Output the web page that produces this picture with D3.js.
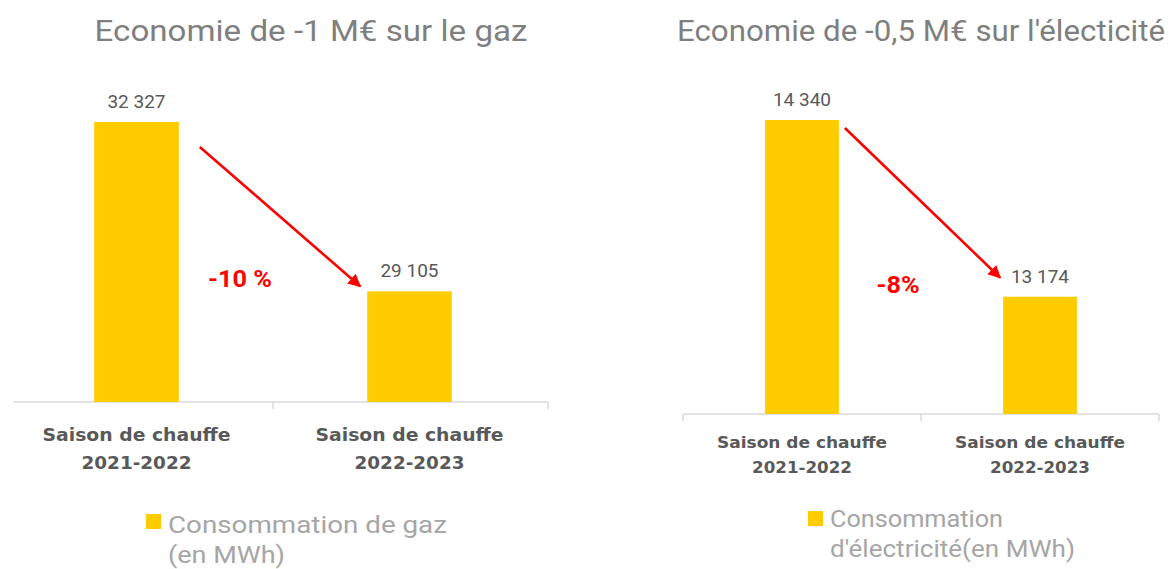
<!DOCTYPE html>
<html>
<head>
<meta charset="utf-8">
<script src="https://d3js.org/d3.v7.min.js"></script>
<style>
  body { margin: 0; background: #fff; }
  svg { display: block; font-family: Roboto, "Noto Sans", sans-serif; }
  .title { fill: #7f7f7f; font-size: 29px; }
  .value { fill: #595959; font-size: 19px; }
  .cat { fill: #595959; font-family: "DejaVu Sans", sans-serif; font-weight: bold; }
  .change { fill: #ff0000; font-size: 23px; font-weight: bold; }
  .legend { fill: #a6a6a6; font-size: 23px; }
  .bar { fill: #ffcc00; }
</style>
</head>
<body>
<div id="chart"></div>
<script>
// data
const categories = [["Saison de chauffe", "2021-2022"], ["Saison de chauffe", "2022-2023"]];
const gasValues = [32327, 29105];
const elecValues = [14340, 13174];
const titles = ["Economie de -1 M€ sur le gaz", "Economie de -0,5 M€ sur l'électicité"];
const changeLabels = ["-10 %", "-8%"];
const legendLabels = [["Consommation de gaz", "(en MWh)"], ["Consommation", "d'électricité(en MWh)"]];
const axisBounds = [[27000, 34000], [12400, 15000]];

const w = 1169, h = 569;
const fr = d3.formatLocale({decimal: ",", thousands: " ", grouping: [3], currency: ["", "€"]});
const fmt = fr.format(",d");

const svg = d3.select("#chart").append("svg")
  .attr("width", w)
  .attr("height", h);

svg.append("defs").append("marker")
  .attr("id", "head")
  .attr("viewBox", "0 0 10 10")
  .attr("refX", 9).attr("refY", 5)
  .attr("markerWidth", 5).attr("markerHeight", 5)
  .attr("orient", "auto")
  .append("path")
  .attr("d", "M0,0 L10,5 L0,10 z")
  .attr("fill", "#ff0000");

// layout of each panel
const panels = [
  {values: gasValues, left: 0, right: 546, lineL: 14, lineR: 548, edgeTicks: [273, 548],
   base: 402, top: 34, titleX: 311, titleW: 433, catSize: 18.5, catW: [188, 110], catY: [441, 469],
   start: [21, 25], end: [-7, -5], chg: [240, 287], chgW: 64,
   legX: 146, legY: 514, legSq: 15, legBase: [533, 563], legW: [279, 117]},
  {values: elecValues, left: 683, right: 1159, lineL: 683, lineR: 1159, edgeTicks: [683, 921, 1159],
   base: 414, top: 20, titleX: 921, titleW: 488, catSize: 16.5, catW: [170, 100], catY: [448, 473],
   start: [6, 8], end: [-3, -19], chg: [898, 293], chgW: 43,
   legX: 808, legY: 511, legSq: 15, legBase: [527, 557], legW: [173, 245]}
];

panels.forEach((p, k) => {
  const g = svg.append("g");
  const keys = categories.map(c => c.join(" "));

  const x = d3.scaleBand().domain(keys).range([p.left, p.right]).paddingInner(0.69).paddingOuter(0.345);
  const y = d3.scaleLinear().domain(axisBounds[k]).range([p.base, p.top]);

  g.append("text")
    .attr("class", "title")
    .attr("x", p.titleX).attr("y", 41)
    .attr("text-anchor", "middle")
    .attr("textLength", p.titleW)
    .attr("lengthAdjust", "spacingAndGlyphs")
    .text(titles[k]);

  // category axis: baseline with separator ticks
  const ax = g.append("g").attr("transform", `translate(0,${p.base})`)
    .call(d3.axisBottom(x).tickSize(0).tickFormat(""));
  ax.select(".domain").remove();
  ax.append("line")
    .attr("x1", p.lineL).attr("x2", p.lineR)
    .attr("stroke", "#d9d9d9").attr("stroke-width", 1.5);
  ax.selectAll(".edge").data(p.edgeTicks).enter().append("line")
    .attr("x1", d => d).attr("x2", d => d)
    .attr("y1", 0).attr("y2", 7)
    .attr("stroke", "#d9d9d9").attr("stroke-width", 1.5);

  g.selectAll("rect.bar")
    .data(p.values)
    .enter().append("rect")
    .attr("class", "bar")
    .attr("x", (d, i) => x(keys[i]))
    .attr("y", d => y(d))
    .attr("width", x.bandwidth())
    .attr("height", d => p.base - y(d));

  g.selectAll("text.value")
    .data(p.values)
    .enter().append("text")
    .attr("class", "value")
    .attr("x", (d, i) => x(keys[i]) + x.bandwidth() / 2)
    .attr("y", d => y(d) - 14)
    .attr("text-anchor", "middle")
    .text(d => fmt(d));

  categories.forEach((c, i) => {
    const cx = x(keys[i]) + x.bandwidth() / 2;
    c.forEach((line, j) => {
      g.append("text")
        .attr("class", "cat")
        .attr("x", cx).attr("y", p.catY[j])
        .attr("text-anchor", "middle")
        .style("font-size", p.catSize + "px")
        .attr("textLength", p.catW[j])
        .attr("lengthAdjust", "spacingAndGlyphs")
        .text(line);
    });
  });

  // red arrow from first bar towards second
  const x1 = x(keys[0]) + x.bandwidth() + p.start[0], y1 = y(p.values[0]) + p.start[1];
  const x2 = x(keys[1]) + p.end[0], y2 = y(p.values[1]) + p.end[1];
  g.append("line")
    .attr("x1", x1).attr("y1", y1)
    .attr("x2", x2).attr("y2", y2)
    .attr("stroke", "#ff0000").attr("stroke-width", 2.6)
    .attr("marker-end", "url(#head)");

  g.append("text")
    .attr("class", "change")
    .attr("x", p.chg[0]).attr("y", p.chg[1])
    .attr("text-anchor", "middle")
    .attr("textLength", p.chgW)
    .attr("lengthAdjust", "spacingAndGlyphs")
    .text(changeLabels[k]);

  // legend
  g.append("rect")
    .attr("class", "bar")
    .attr("x", p.legX).attr("y", p.legY)
    .attr("width", p.legSq).attr("height", p.legSq);
  legendLabels[k].forEach((l, i) => {
    g.append("text")
      .attr("class", "legend")
      .attr("x", p.legX + 22).attr("y", p.legBase[i])
      .attr("textLength", p.legW[i])
      .attr("lengthAdjust", "spacingAndGlyphs")
      .text(l);
  });
});
</script>
</body>
</html>
